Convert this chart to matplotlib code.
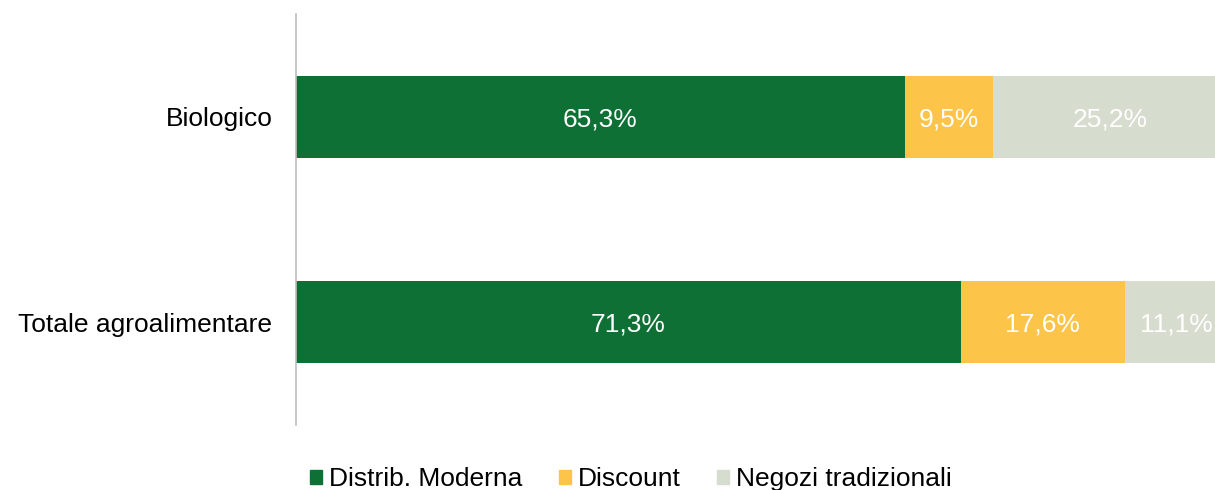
import matplotlib
matplotlib.use("Agg")
import matplotlib.pyplot as plt
from matplotlib.patches import Patch

categories = ["Biologico", "Totale agroalimentare"]
series_names = ["Distrib. Moderna", "Discount", "Negozi tradizionali"]
distrib_moderna = [65.3, 71.3]
discount = [9.5, 17.6]
negozi = [25.2, 11.1]
colors = ["#0F7035", "#FDC44A", "#D6DDCE"]

plt.rcParams['font.family'] = ['Liberation Sans', 'DejaVu Sans']

fig = plt.figure(figsize=(12.15, 4.90), dpi=100)
ax = fig.add_axes([296/1215, 1 - 425/490, 932/1215, 411/490])

ypos = list(range(len(categories)))
left = [0.0] * len(categories)
for vals, col in zip([distrib_moderna, discount, negozi], colors):
    ax.barh(ypos, vals, left=left, height=0.4, color=col)
    for y, v, l in zip(ypos, vals, left):
        ax.text(l + v / 2, y, f"{v:.1f}%".replace(".", ","), ha="center", va="center_baseline",
                color="white", fontsize=19)
    left = [a + b for a, b in zip(left, vals)]

ax.set_xlim(0, 100)
ax.set_ylim(1.5, -0.5)
ax.set_yticks(ypos)
ax.set_yticklabels(categories, fontsize=19, va="center_baseline")
ax.tick_params(axis="y", length=0, pad=17)
ax.set_xticks([])
for s in ["top", "right", "bottom"]:
    ax.spines[s].set_visible(False)
ax.spines["left"].set_color("#BFBFBF")
ax.spines["left"].set_linewidth(1.2)

handles = [Patch(color=c, label=n) for c, n in zip(colors, series_names)]
fig.legend(handles=handles, loc="center", bbox_to_anchor=(631/1215, 1 - 479/490),
           ncol=3, frameon=False, fontsize=19, handlelength=0.45, handleheight=0.45,
           handletextpad=0.25, columnspacing=1.4)

fig.savefig("out.png", dpi=100)
